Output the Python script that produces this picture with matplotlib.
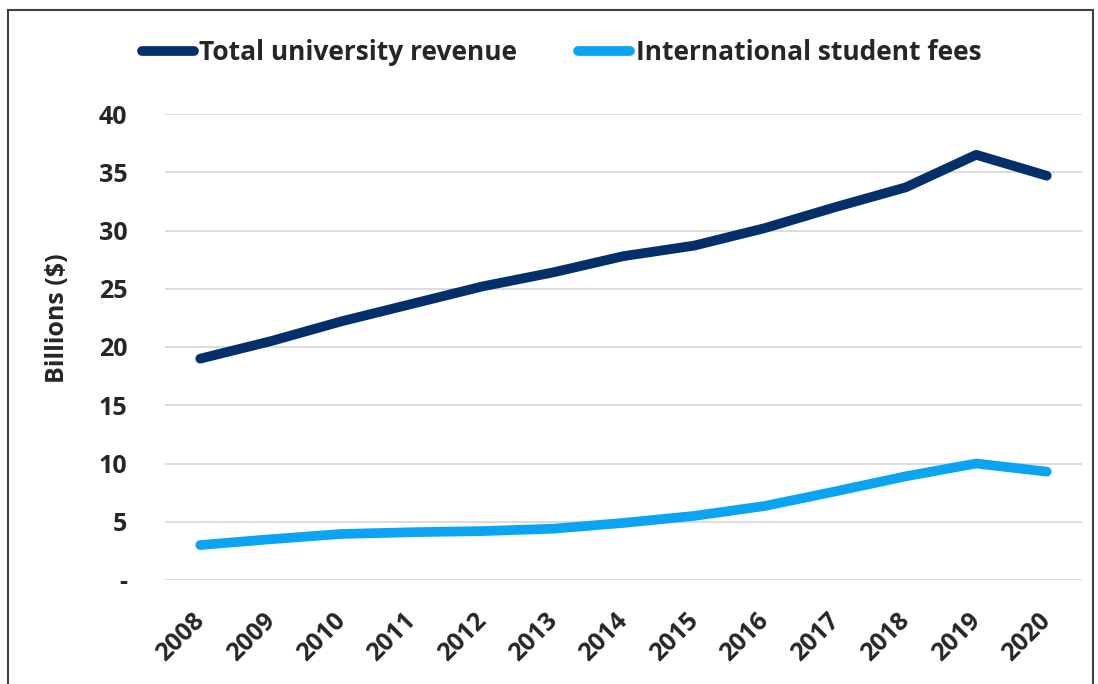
import matplotlib
matplotlib.use("Agg")
import matplotlib.pyplot as plt
from matplotlib.patches import Rectangle
from matplotlib.transforms import ScaledTranslation

years = ["2008", "2009", "2010", "2011", "2012", "2013", "2014", "2015", "2016", "2017", "2018", "2019", "2020"]
total_revenue = [19.0, 20.5, 22.2, 23.7, 25.2, 26.4, 27.8, 28.7, 30.2, 32.0, 33.7, 36.5, 34.7]
intl_fees = [3.0, 3.5, 3.95, 4.1, 4.2, 4.4, 4.9, 5.5, 6.35, 7.6, 8.9, 10.0, 9.3]
yticks = [0, 5, 10, 15, 20, 25, 30, 35, 40]
ytick_labels = ["-", "5", "10", "15", "20", "25", "30", "35", "40"]

plt.rcParams['font.family'] = ['Open Sans', 'DejaVu Sans']
fig = plt.figure(figsize=(10.98, 6.84), dpi=100)
ax = fig.add_axes([165/1098, 1-580/684, (1082-165)/1098, (580-114)/684])

x = list(range(len(years)))
ax.plot(x, total_revenue, color="#03306B", lw=7, solid_capstyle="round", solid_joinstyle="round",
        label="Total university revenue")
ax.plot(x, intl_fees, color="#0BA4F2", lw=7, solid_capstyle="round", solid_joinstyle="round",
        label="International student fees")

ax.set_xlim(-0.5, len(years) - 0.5)
ax.set_ylim(0, 40)
ax.set_yticks(yticks)
ax.set_yticklabels(ytick_labels)
ax.set_xticks(x)
ax.set_xticklabels(years, rotation=45, ha="right", va="top", rotation_mode="anchor")
ax.grid(axis="y", color="#D9D9D9", lw=1.3)
ax.set_axisbelow(True)
for s in ax.spines.values():
    s.set_visible(False)
ax.tick_params(length=0, labelsize=18, colors="#262626")
ax.tick_params(axis="y", pad=27)
ax.tick_params(axis="x", pad=10)
offset = ScaledTranslation(-6/72, -10/72, fig.dpi_scale_trans)
for lab in ax.get_xticklabels():
    lab.set_fontweight("bold")
    lab.set_transform(lab.get_transform() + offset)
for lab in ax.get_yticklabels():
    lab.set_fontweight("bold")
ax.set_ylabel("Billions ($)", fontsize=18, fontweight="bold", color="#262626")
ax.yaxis.set_label_coords((70 - 165) / 917, (580 - 318) / 466)

leg = fig.legend(loc="center left", bbox_to_anchor=(118/1098, 1-53/684), ncol=2, frameon=False,
                 handlelength=1.98, handletextpad=0.2, columnspacing=2.3,
                 prop={"weight": "bold", "size": 19})
for t in leg.get_texts():
    t.set_color("#262626")

fig.patches.append(Rectangle((8/1098, -0.01), (1093-8)/1098, 1.01 - 10/684,
                             transform=fig.transFigure, fill=False, edgecolor="#404040", lw=1.5))

fig.savefig("out.png", dpi=100)
